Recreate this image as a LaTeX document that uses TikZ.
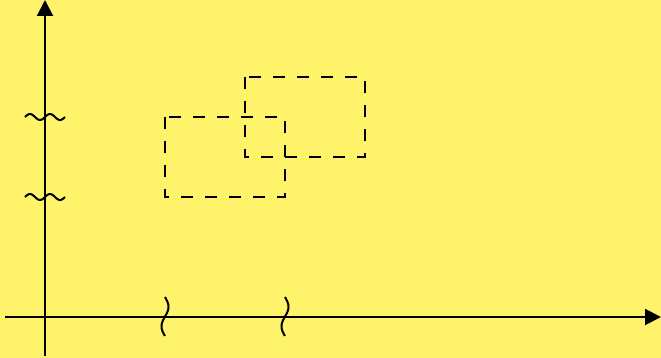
\documentclass[tikz,border=0pt]{standalone}
\usetikzlibrary{arrows.meta}
\definecolor{bgyellow}{RGB}{255,243,107}
\tikzset{
  axis/.style={line width=2pt,-{Triangle[length=16pt,width=16pt]}},
  region/.style={line width=2pt,dash pattern=on 12pt off 12pt},
  wiggle/.style={line width=2pt,smooth,samples=40}
}
\begin{document}
\begin{tikzpicture}[x=1pt,y=-1pt]
    \fill[bgyellow] (0,0) rectangle (661,358);
    \useasboundingbox (0,0) rectangle (661,358);
    % axes
    \coordinate (O) at (45,317);
    \coordinate (ytop) at (45,0);
    \coordinate (ybot) at (45,356);
    \coordinate (xleft) at (5,317);
    \coordinate (xright) at (661,317);
    \draw[axis] (ybot) to (ytop);
    \draw[axis] (xleft) to (xright);
    % dashed regions
    \coordinate (A1) at (165,117);
    \coordinate (A2) at (285,197);
    \coordinate (B1) at (245,77);
    \coordinate (B2) at (365,157);
    \draw[region] (A1) rectangle (A2);
    \draw[region] (B1) rectangle (B2);
    % breaks on the axes
    \foreach \yy in {117,197}
        \draw[wiggle] plot[domain=0:40] ({25+\x},{\yy-3*sin(\x*18)});
    \foreach \xx in {165,285}
        \draw[wiggle] plot[domain=0:39] ({\xx+3.5*sin(\x*9.2)},{297+\x});
\end{tikzpicture}
\end{document}
